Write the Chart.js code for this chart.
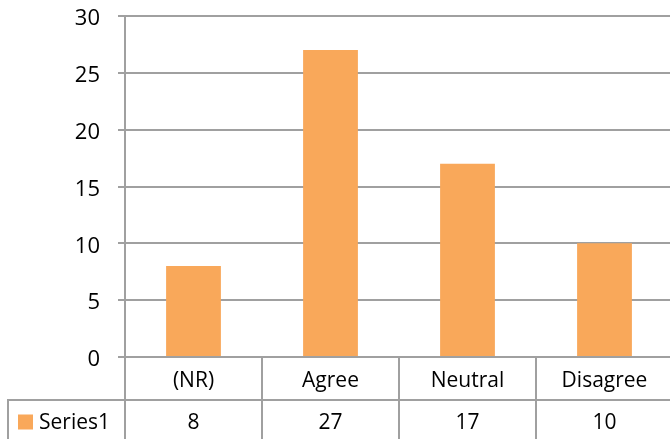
<!DOCTYPE html>
<html>
<head>
<meta charset="utf-8">
<script src="https://cdn.jsdelivr.net/npm/chart.js@4/dist/chart.umd.min.js"></script>
<style>
html,body{margin:0;padding:0;background:#fff;overflow:hidden;}
#wrap{width:680px;height:439px;position:relative;}
</style>
</head>
<body>
<div id="wrap"><canvas id="c" width="680" height="439"></canvas></div>
<script>
const categories = ['(NR)', 'Agree', 'Neutral', 'Disagree'];
const seriesName = 'Series1';
const seriesValues = [8, 27, 17, 10];
const yMin = 0, yMax = 30, yStep = 5;

const FONT = '"Open Sans", "DejaVu Sans", sans-serif';
const GRID = '#a0a0a0';
const BAR = '#F9A85A';

const tablePlugin = {
  id: 'dataTable',
  afterDraw(chart) {
    const ctx = chart.ctx;
    const x = chart.scales.x;
    const area = chart.chartArea;
    const n = categories.length;
    const colW = (x.right - x.left) / n;
    const rowTop = area.bottom;
    const rowMid = area.bottom + 43;
    const rowBot = chart.height;
    const tableLeft = 8;
    ctx.save();
    ctx.strokeStyle = GRID;
    ctx.lineWidth = 2;
    ctx.beginPath();
    for (let i = 0; i <= n; i++) {
      const px = x.left + i * colW;
      ctx.moveTo(px, rowTop);
      ctx.lineTo(px, rowBot);
    }
    ctx.moveTo(tableLeft, rowMid);
    ctx.lineTo(tableLeft, rowBot);
    ctx.moveTo(tableLeft - 1, rowMid);
    ctx.lineTo(chart.width, rowMid);
    ctx.stroke();

    ctx.fillStyle = '#000';
    ctx.font = '21px ' + FONT;
    ctx.textAlign = 'center';
    ctx.textBaseline = 'middle';
    for (let i = 0; i < n; i++) {
      const cx = x.left + (i + 0.5) * colW;
      ctx.fillText(categories[i], cx, (rowTop + rowMid) / 2 + 3);
      ctx.fillText(String(seriesValues[i]), cx, (rowMid + rowBot) / 2 + 4);
    }
    const ky = (rowMid + rowBot) / 2 + 2;
    ctx.fillStyle = BAR;
    ctx.fillRect(18, ky - 7, 15, 15);
    ctx.fillStyle = '#000';
    ctx.textAlign = 'left';
    ctx.fillText(seriesName, 39, ky + 2);
    ctx.restore();
  }
};

new Chart(document.getElementById('c'), {
  type: 'bar',
  data: {
    labels: categories,
    datasets: [{
      label: seriesName,
      data: seriesValues,
      backgroundColor: BAR,
      borderWidth: 0,
      categoryPercentage: 1.0,
      barPercentage: 0.4
    }]
  },
  options: {
    responsive: false,
    animation: false,
    layout: { padding: { top: 16, right: 7, bottom: 82, left: 0 } },
    plugins: { legend: { display: false }, tooltip: { enabled: false } },
    scales: {
      x: {
        display: false,
        offset: true
      },
      y: {
        min: yMin,
        max: yMax,
        afterFit(s) { s.width = 125; s.paddingTop = 0; s.paddingBottom = 0; },
        ticks: {
          stepSize: yStep,
          color: '#000',
          padding: 18,
          labelOffset: 3,
          font: { family: FONT, size: 22 }
        },
        grid: {
          color: GRID,
          lineWidth: 2,
          tickLength: 7,
          drawTicks: true
        },
        border: { color: GRID, width: 2 }
      }
    }
  },
  plugins: [tablePlugin]
});
</script>
</body>
</html>
